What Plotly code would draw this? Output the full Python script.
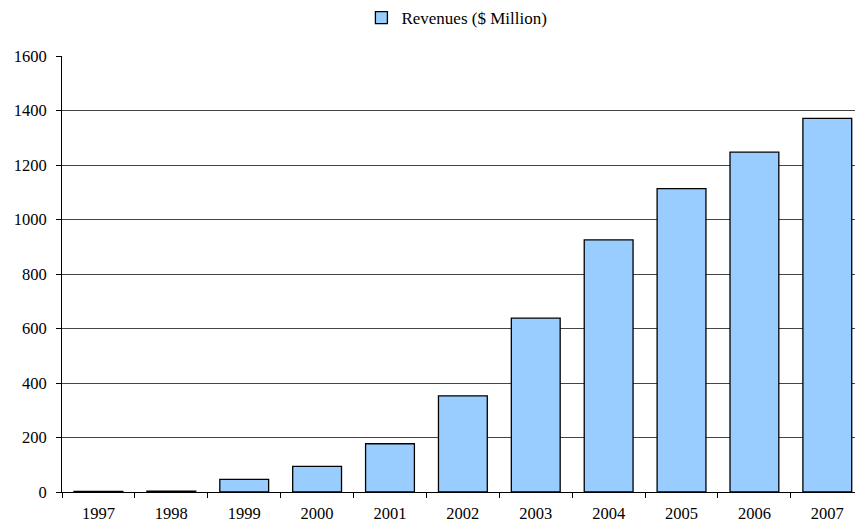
import plotly.graph_objects as go

years = ["1997", "1998", "1999", "2000", "2001", "2002", "2003", "2004", "2005", "2006", "2007"]
revenues = [2, 3, 46, 94, 177, 353, 638, 925, 1113, 1247, 1371]
series_name = "Revenues ($ Million)"
y_ticks = [0, 200, 400, 600, 800, 1000, 1200, 1400, 1600]

font_family = "Liberation Serif"

fig = go.Figure()
fig.add_trace(go.Bar(
    x=years, y=revenues, name=series_name,
    marker=dict(color="#99CCFF", line=dict(color="#000000", width=1.3)),
    showlegend=True,
))

fig.update_layout(
    width=855, height=524,
    margin=dict(l=62, r=0, t=56, b=32),
    paper_bgcolor="white", plot_bgcolor="white",
    font=dict(family=font_family, size=16.5, color="#000000"),
    bargap=0.33,
    showlegend=True,
    legend=dict(orientation="h", x=0.498, xanchor="center", y=1.0, yanchor="top",
                yref="container", font=dict(family=font_family, size=17),
                itemwidth=30),
    xaxis=dict(
        type="category", range=[-0.5, 10.38], showline=True, linecolor="#000000", linewidth=1,
        ticks="outside", tickson="boundaries", ticklen=5, tickcolor="#000000",
        showgrid=False, ticklabelstandoff=6,
    ),
    yaxis=dict(
        range=[0, 1600], tickvals=y_ticks, showline=True, linecolor="#000000", linewidth=1,
        ticks="outside", ticklen=5, tickcolor="#000000", ticklabelstandoff=6,
        showgrid=True, gridcolor="#444444", gridwidth=1, zeroline=False,
    ),
)

fig.write_html("out.html")
